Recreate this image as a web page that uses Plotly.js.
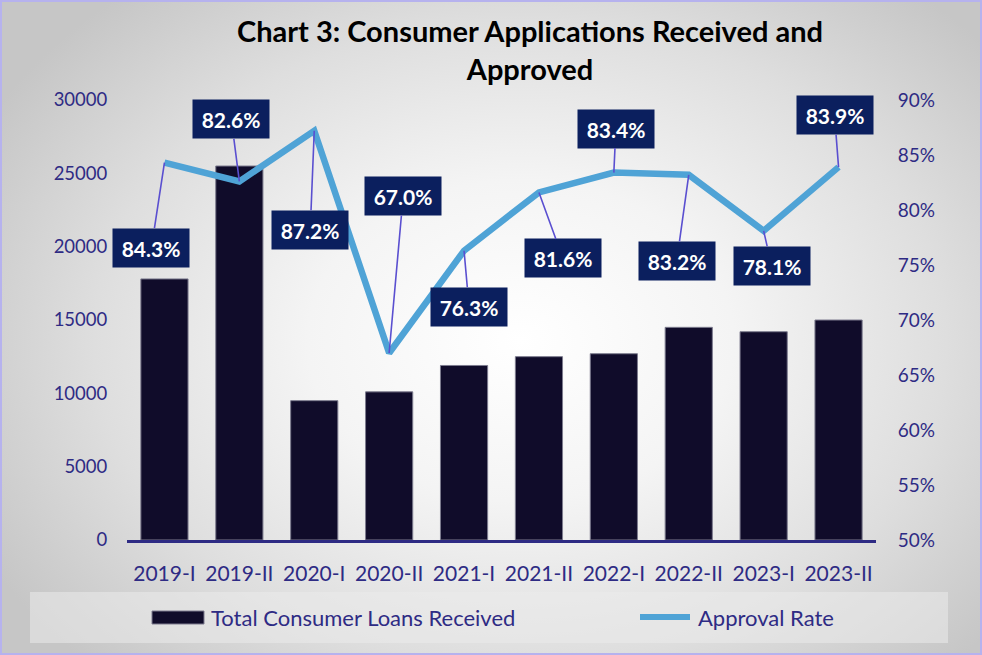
<!DOCTYPE html>
<html>
<head>
<meta charset="utf-8">
<script src="https://cdn.plot.ly/plotly-3.0.1.min.js"></script>
<style>
  html, body { margin: 0; padding: 0; }
  #wrap { position: relative; width: 982px; height: 655px; overflow: hidden;
    background: radial-gradient(ellipse 62% 70% at 53% 52%, #ffffff 0%, #f4f4f4 35%, #dedede 70%, #c6c6c6 100%); }
  #chart { position: absolute; left: 0; top: 0; width: 982px; height: 655px; }
  #frame { position: absolute; left: 0; top: 0; width: 982px; height: 655px; box-sizing: border-box;
    border: 2px solid #b6b2ee; pointer-events: none; }
</style>
</head>
<body>
<div id="wrap"><div id="chart"></div><div id="frame"></div></div>
<script>
// ---- data ----
const categories = ["2019-I","2019-II","2020-I","2020-II","2021-I","2021-II","2022-I","2022-II","2023-I","2023-II"];
const loansReceived = [17800, 25500, 9500, 10100, 11900, 12500, 12700, 14500, 14200, 15000];
const approvalRate = [0.843, 0.826, 0.872, 0.670, 0.763, 0.816, 0.834, 0.832, 0.781, 0.839];
const approvalLabels = ["84.3%","82.6%","87.2%","67.0%","76.3%","81.6%","83.4%","83.2%","78.1%","83.9%"];
const seriesNames = ["Total Consumer Loans Received", "Approval Rate"];
const leftTicks = [0, 5000, 10000, 15000, 20000, 25000, 30000];
const rightTicks = [0.5, 0.55, 0.6, 0.65, 0.7, 0.75, 0.8, 0.85, 0.9];

// label offsets (pixels) for data labels
const labelAx = [-13, -8, -4, 14, 5, 24, 2, -12, 8, -4];
const labelAy = [85, -62, 99, -157, 56, 66, -44, 86, 35, -52];

const W = 982, H = 655;
const M = { l: 127, r: 106, t: 100, b: 115 };
const PW = W - M.l - M.r, PH = H - M.t - M.b;
const px = x => (x - M.l) / PW;
const py = y => (H - M.b - y) / PH;

const FONT = "Lato, 'Open Sans', sans-serif";
const AXC = "#2e2b84";

const traces = [
  {
    type: "bar", name: seriesNames[0], x: categories, y: loansReceived,
    width: 0.63, marker: { color: "#100c2a", line: { color: "#7c7b8e", width: 1 } },
    showlegend: false, hoverinfo: "x+y"
  },
  {
    type: "scatter", mode: "lines", name: seriesNames[1], x: categories, y: approvalRate,
    yaxis: "y2", line: { color: "#4fa3d6", width: 6.5 }, showlegend: false
  }
];

const annotations = categories.map((c, i) => ({
  x: c, y: approvalRate[i], xref: "x", yref: "y2",
  text: "<b>" + approvalLabels[i] + "</b>",
  showarrow: true, arrowhead: 0, arrowwidth: 1.6, arrowcolor: "#5a4fd0",
  ax: labelAx[i], ay: labelAy[i], standoff: 0,
  bgcolor: "#0b1f5e", borderpad: 6, width: 64, height: 26,
  font: { family: FONT, size: 21, color: "#ffffff" }
}));

// custom legend text
annotations.push({
  xref: "paper", yref: "paper", x: px(209), y: py(617), xanchor: "left", yanchor: "middle",
  text: seriesNames[0], showarrow: false, font: { family: FONT, size: 22, color: AXC }
});
annotations.push({
  xref: "paper", yref: "paper", x: px(696), y: py(617), xanchor: "left", yanchor: "middle",
  text: seriesNames[1], showarrow: false, font: { family: FONT, size: 22, color: AXC }
});

const shapes = [
  { type: "rect", xref: "paper", yref: "paper", x0: px(30), x1: px(948), y0: py(643), y1: py(592),
    fillcolor: "rgba(235,235,235,0.55)", line: { width: 0 }, layer: "below" },
  { type: "rect", xref: "paper", yref: "paper", x0: px(152), x1: px(204), y0: py(624), y1: py(611),
    fillcolor: "#100c2a", line: { color: "#7c7b8e", width: 1 } },
  { type: "line", xref: "paper", yref: "paper", x0: px(640), x1: px(690), y0: py(617), y1: py(617),
    line: { color: "#4fa3d6", width: 6 } }
];

const layout = {
  width: W, height: H,
  margin: M,
  paper_bgcolor: "rgba(0,0,0,0)", plot_bgcolor: "rgba(0,0,0,0)",
  title: {
    text: "<b>Chart 3: Consumer Applications Received and<br>Approved</b>",
    font: { family: FONT, size: 29, color: "#000000" },
    xref: "container", yref: "container", x: 530 / W, xanchor: "center",
    y: 1 - 42 / H, yanchor: "top"
  },
  bargap: 0.37,
  xaxis: {
    type: "category", range: [-0.5, 9.5], showgrid: false, zeroline: false,
    showline: true, linecolor: AXC, linewidth: 3,
    ticks: "outside", ticklen: 13, tickcolor: "rgba(0,0,0,0)",
    tickfont: { family: FONT, size: 21, color: AXC }, fixedrange: true
  },
  yaxis: {
    range: [0, 30000], tickvals: leftTicks, tickformat: "d", showgrid: false, zeroline: false, showline: false,
    ticks: "outside", ticklen: 15, tickcolor: "rgba(0,0,0,0)",
    tickfont: { family: FONT, size: 18.5, color: AXC }
  },
  yaxis2: {
    overlaying: "y", side: "right", range: [0.5, 0.9], tickvals: rightTicks, tickformat: ".0%",
    showgrid: false, zeroline: false, showline: false,
    ticks: "outside", ticklen: 17, tickcolor: "rgba(0,0,0,0)",
    tickfont: { family: FONT, size: 19, color: AXC }
  },
  annotations: annotations,
  shapes: shapes,
  showlegend: false
};

Plotly.newPlot("chart", traces, layout, { displayModeBar: false, staticPlot: true });
</script>
</body>
</html>
